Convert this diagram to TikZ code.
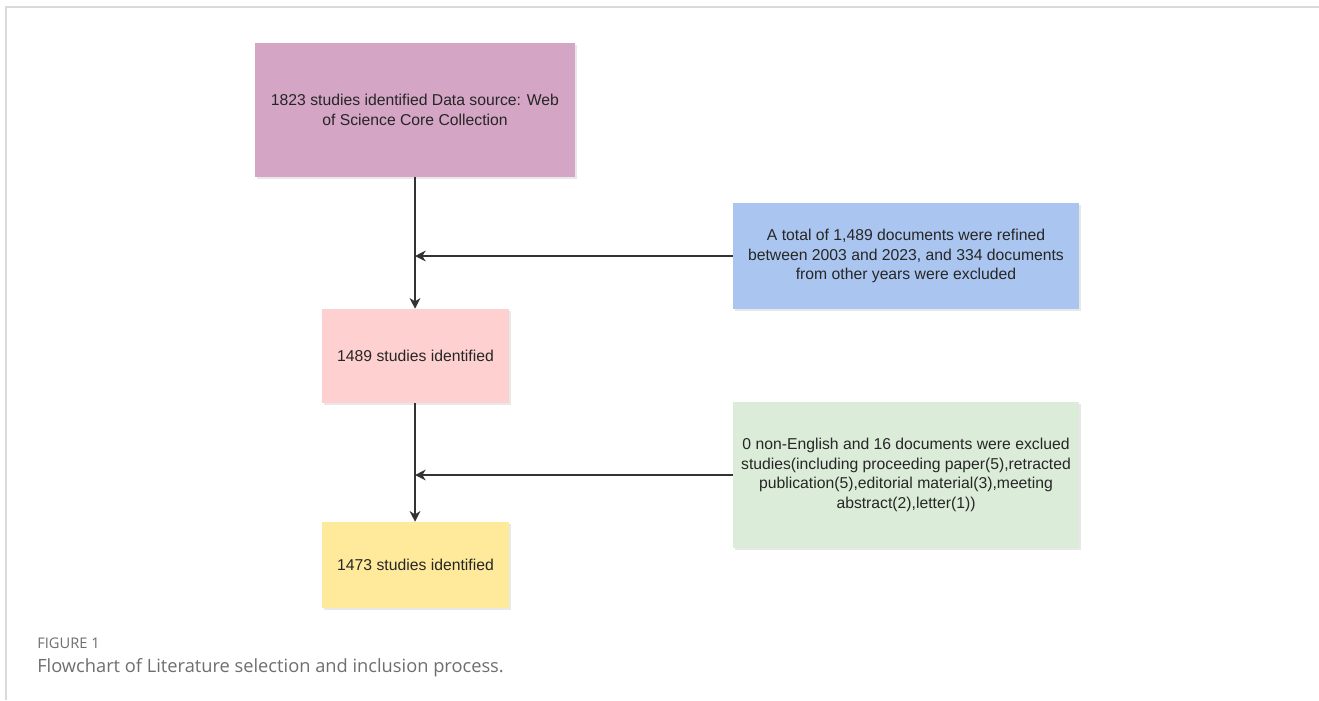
\documentclass[tikz,border=0pt]{standalone}
\usepackage{fontspec}
\setmainfont{Liberation Sans}
\newfontfamily\capfont{Open Sans}
\usepackage{tikz}
\usetikzlibrary{calc, arrows.meta, shadows}
\usepackage{xcolor}

\definecolor{boxpurple}{RGB}{212,165,197}
\definecolor{boxpink}{RGB}{255,208,208}
\definecolor{boxyellow}{RGB}{255,234,156}
\definecolor{boxblue}{RGB}{170,198,240}
\definecolor{boxgreen}{RGB}{219,237,216}
\definecolor{framegray}{RGB}{218,218,218}
\definecolor{capgray}{RGB}{110,110,110}

\tikzset{
    flowbox/.style={rectangle, inner sep=4pt, align=center, text=black!85,
        font=\fontsize{11.8}{14.6}\selectfont,
        drop shadow={shadow xshift=1.5pt, shadow yshift=-1.5pt, opacity=0.18}},
    flowarrow/.style={draw=black!80, line width=1.1pt,
        -{Stealth[length=8pt, width=8pt, inset=2.5pt]}}
}

\begin{document}
\begin{tikzpicture}[x=0.75pt, y=-0.75pt]
            \useasboundingbox (0,0) rectangle (1319,700);
            \draw[framegray, line width=1pt] (6,700) -- (6,7) -- (1319,7);
            % main column
            \node[flowbox, fill=boxpurple, minimum width=240pt, minimum height=100.5pt] (src) at (415,110)
                {1823 studies identified Data source: Web\\of Science Core Collection};
            \node[flowbox, fill=boxpink, minimum width=140.25pt, minimum height=70.5pt] (mid) at (415.5,356)
                {1489 studies identified};
            \node[flowbox, fill=boxyellow, minimum width=140.25pt, minimum height=64.5pt] (fin) at (415.5,565)
                {1473 studies identified};
            % exclusions
            \node[flowbox, fill=boxblue, minimum width=259.5pt, minimum height=79.5pt] (yrs) at (906,256)
                {A total of 1,489 documents were refined\\between 2003 and 2023, and 334 documents\\from other years were excluded};
            \node[flowbox, fill=boxgreen, minimum width=259.5pt, minimum height=109.5pt] (lang) at (906,475)
                {0 non-English and 16 documents were exclued\\studies(including proceeding paper(5),retracted\\publication(5),editorial material(3),meeting\\abstract(2),letter(1))};
            \coordinate (j1) at (src.south |- yrs.west);
            \coordinate (j2) at (src.south |- lang.west);
            \draw[flowarrow] (src.south) -- (src.south |- mid.north);
            \draw[flowarrow] (src.south |- mid.south) -- (src.south |- fin.north);
            \draw[flowarrow] (yrs.west) -- (j1);
            \draw[flowarrow] (lang.west) -- (j2);
            % caption
            \node[anchor=base west, inner sep=0pt, text=capgray, font=\capfont\fontsize{11}{13}\selectfont] (fig) at (37,648) {FIGURE 1};
            \node[anchor=base west, inner sep=0pt, text=capgray, font=\capfont\fontsize{13.7}{16}\selectfont] (cap) at (37,672)
                {Flowchart of Literature selection and inclusion process.};
        \end{tikzpicture}
\end{document}
